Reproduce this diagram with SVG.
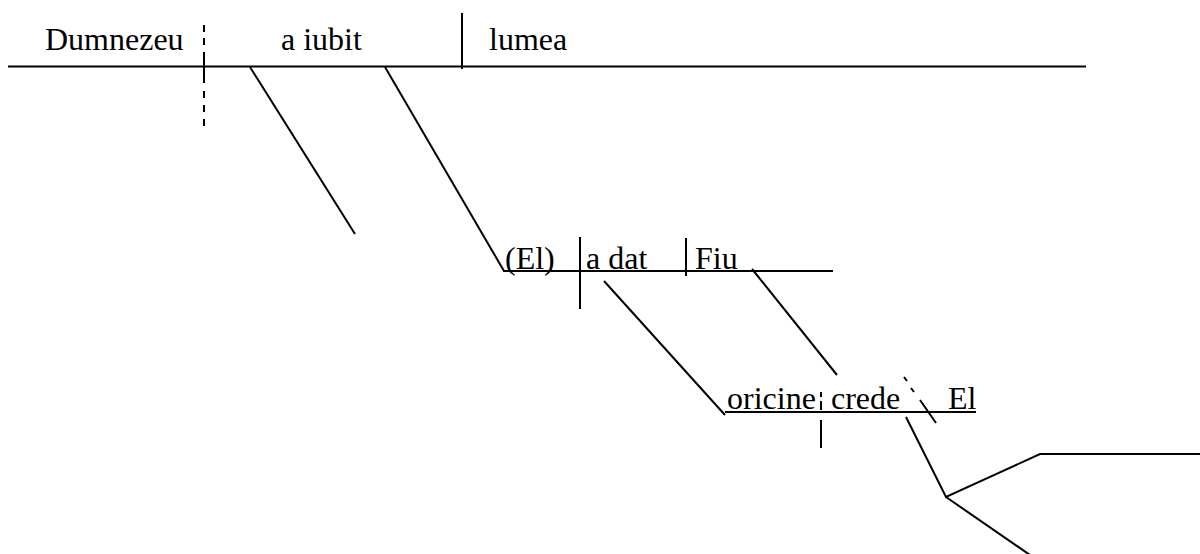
<svg xmlns="http://www.w3.org/2000/svg" width="1200" height="554" viewBox="0 0 1200 554">
<style>
text{font-family:"Liberation Serif","Times New Roman",serif;font-size:32px;fill:#000}
.ln{stroke:#000;stroke-width:2;fill:none}
</style>
<rect width="1200" height="554" fill="#fff"/>
<g id="connectors">
<line class="ln" x1="8" y1="66.5" x2="1086" y2="66.5"/>
<path class="ln" d="M204 25V32M204 38V45M204 52V83M204 91V98M204 105V112M204 119V126"/>
<line class="ln" x1="462" y1="13" x2="462" y2="69"/>
<line class="ln" x1="250" y1="67" x2="355" y2="234"/>
<line class="ln" x1="385" y1="67" x2="504" y2="271"/>
<line class="ln" x1="503" y1="271" x2="833" y2="271"/>
<line class="ln" x1="580" y1="237" x2="580" y2="309"/>
<line class="ln" x1="686" y1="238" x2="686" y2="276"/>
<line class="ln" x1="604" y1="281" x2="725" y2="415"/>
<line class="ln" x1="752" y1="269" x2="837" y2="375"/>
<line class="ln" x1="725" y1="412" x2="976" y2="412"/>
<path class="ln" d="M821 392V397M821 401V410M821 420V448"/>
<path class="ln" d="M904 377L907 381M911 388L914 392M920 400L936 423"/>
<polyline class="ln" points="906,417 946,497 1040,454 1200,454"/>
<line class="ln" x1="946" y1="497" x2="1030" y2="555"/>
</g>
<g id="node-dumnezeu"><text x="45" y="50">Dumnezeu</text></g>
<g id="node-a-iubit"><text x="281" y="50">a iubit</text></g>
<g id="node-lumea"><text x="489" y="50">lumea</text></g>
<g id="node-el-paren"><text x="505" y="269">(El)</text></g>
<g id="node-a-dat"><text x="586" y="269">a dat</text></g>
<g id="node-fiu"><text x="695" y="269">Fiu</text></g>
<g id="node-oricine"><text x="727" y="409">oricine</text></g>
<g id="node-crede"><text x="831" y="409">crede</text></g>
<g id="node-el"><text x="948" y="409">El</text></g>
</svg>
